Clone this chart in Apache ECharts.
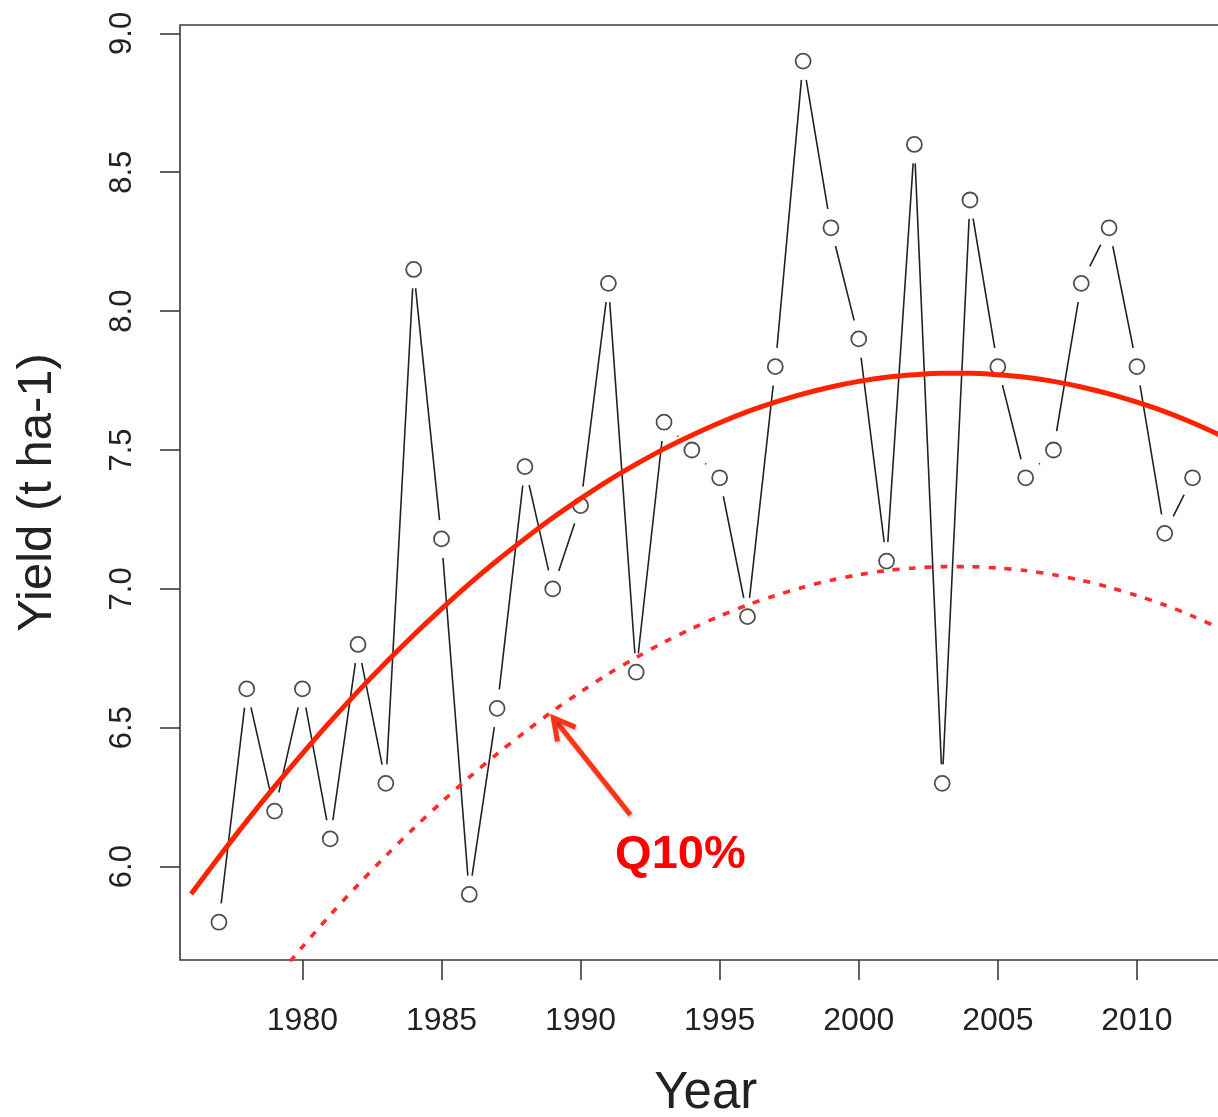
<!DOCTYPE html>
<html>
<head>
<meta charset="utf-8">
<title>Yield trend</title>
<script src="https://cdn.jsdelivr.net/npm/echarts@6/dist/echarts.min.js"></script>
<style>
  html, body { margin: 0; padding: 0; background: #fff; }
  #chart { width: 1218px; height: 1117px; }
</style>
</head>
<body>
<div id="chart"></div>
<script>
// Observed yearly yields (t ha-1)
const years = [1977, 1978, 1979, 1980, 1981, 1982, 1983, 1984, 1985, 1986, 1987, 1988,
               1989, 1990, 1991, 1992, 1993, 1994, 1995, 1996, 1997, 1998, 1999, 2000,
               2001, 2002, 2003, 2004, 2005, 2006, 2007, 2008, 2009, 2010, 2011, 2012];
const yields = [5.80, 6.64, 6.20, 6.64, 6.10, 6.80, 6.30, 8.15, 7.18, 5.90, 6.57, 7.44,
                7.00, 7.30, 8.10, 6.70, 7.60, 7.50, 7.40, 6.90, 7.80, 8.90, 8.30, 7.90,
                7.10, 8.60, 6.30, 8.40, 7.80, 7.40, 7.50, 8.10, 8.30, 7.80, 7.20, 7.40];

// Fitted mean trend and the 10% quantile trend, one reading per year
const trendYears = [1976, 1977, 1978, 1979, 1980, 1981, 1982, 1983, 1984, 1985,
                    1986, 1987, 1988, 1989, 1990, 1991, 1992, 1993, 1994, 1995,
                    1996, 1997, 1998, 1999, 2000, 2001, 2002, 2003, 2004, 2005,
                    2006, 2007, 2008, 2009, 2010, 2011, 2012, 2013, 2013.4];
const meanTrend  = [5.902, 6.035, 6.164, 6.288, 6.407, 6.522, 6.631, 6.735, 6.834, 6.928,
                    7.018, 7.102, 7.181, 7.256, 7.325, 7.390, 7.449, 7.504, 7.553, 7.598,
                    7.638, 7.672, 7.702, 7.727, 7.747, 7.762, 7.771, 7.776, 7.776, 7.771,
                    7.762, 7.747, 7.727, 7.702, 7.672, 7.638, 7.598, 7.553, 7.534];
const q10Trend   = [5.206, 5.339, 5.468, 5.592, 5.711, 5.826, 5.935, 6.039, 6.138, 6.232,
                    6.322, 6.406, 6.485, 6.560, 6.629, 6.694, 6.753, 6.808, 6.857, 6.902,
                    6.942, 6.976, 7.006, 7.031, 7.051, 7.066, 7.075, 7.080, 7.080, 7.075,
                    7.066, 7.051, 7.031, 7.006, 6.976, 6.942, 6.902, 6.857, 6.838];

// Axis ticks
const xTicks = [1980, 1985, 1990, 1995, 2000, 2005, 2010];
const yTicks = [6.0, 6.5, 7.0, 7.5, 8.0, 8.5, 9.0];

// Annotation: arrow from label towards the Q10% curve
const q10Label = 'Q10%';
const q10Arrow = [[1991.79, 6.187, 1989.02, 6.536, 1993.59, 6.042]];

const FONT = "'Liberation Sans', Arial, Helvetica, sans-serif";
const INK = '#222';
const FRAME = '#3a3a3a';

const pairs = (xs, ys) => xs.map((x, i) => [x, ys[i]]);

const chart = echarts.init(document.getElementById('chart'), null, { renderer: 'canvas' });

chart.setOption({
  animation: false,
  backgroundColor: '#fff',
  grid: {
    left: 180, top: 25, right: -13.5, bottom: 157,
    outerBoundsMode: 'none',
    containLabel: false,
    show: true, borderColor: FRAME, borderWidth: 1.6, backgroundColor: 'transparent'
  },
  xAxis: {
    type: 'value', min: 1975.6, max: 2013.4,
    name: 'Year', nameLocation: 'middle', nameGap: 108,
    nameTextStyle: { fontFamily: FONT, fontSize: 51, color: INK, lineHeight: 51 },
    axisLine: { show: false },
    splitLine: { show: false },
    axisTick: { show: true, inside: false, length: 20, customValues: xTicks,
                lineStyle: { color: FRAME, width: 1.6 } },
    axisLabel: { customValues: xTicks, margin: 45, fontFamily: FONT, fontSize: 32,
                 color: INK, lineHeight: 32, formatter: v => String(v) }
  },
  yAxis: {
    type: 'value', min: 5.664, max: 9.03,
    name: 'Yield (t ha-1)', nameLocation: 'middle', nameGap: 118, nameRotate: 90,
    nameTextStyle: { fontFamily: FONT, fontSize: 49, color: INK, lineHeight: 49 },
    axisLine: { show: false },
    splitLine: { show: false },
    axisTick: { show: true, inside: false, length: 20, customValues: yTicks,
                lineStyle: { color: FRAME, width: 1.6 } },
    axisLabel: { customValues: yTicks, rotate: 90, margin: 42, fontFamily: FONT, fontSize: 31,
                 color: INK, lineHeight: 31, formatter: v => v.toFixed(1) }
  },
  series: [
    {
      // connecting line; white discs open a gap around each observation
      type: 'line',
      data: pairs(years, yields),
      z: 2,
      silent: true,
      showAllSymbol: true,
      symbol: 'circle',
      symbolSize: 38,
      itemStyle: { color: '#fff', borderWidth: 0 },
      lineStyle: { color: INK, width: 1.6 }
    },
    {
      // observation markers
      type: 'scatter',
      data: pairs(years, yields),
      z: 3,
      silent: true,
      symbol: 'circle',
      symbolSize: 15,
      itemStyle: { color: '#fff', borderColor: INK, borderWidth: 1.8 }
    },
    {
      type: 'line',
      data: pairs(trendYears, meanTrend),
      z: 4,
      silent: true,
      smooth: 0.3,
      symbol: 'none',
      clip: true,
      lineStyle: { color: '#ff2200', width: 5 }
    },
    {
      type: 'line',
      data: pairs(trendYears, q10Trend),
      z: 4,
      silent: true,
      smooth: 0.3,
      symbol: 'none',
      clip: true,
      lineStyle: { color: '#ff2a2a', width: 3.6, type: [7, 9], cap: 'butt' }
    },
    {
      type: 'custom',
      data: q10Arrow,
      z: 5,
      silent: true,
      clip: false,
      renderItem: function (params, api) {
        const tail = api.coord([api.value(0), api.value(1)]);
        const tip = api.coord([api.value(2), api.value(3)]);
        const lab = api.coord([api.value(4), api.value(5)]);
        const ang = Math.atan2(tail[1] - tip[1], tail[0] - tip[0]);
        const L = 24, spread = 0.5;
        const w1 = [tip[0] + L * Math.cos(ang + spread), tip[1] + L * Math.sin(ang + spread)];
        const w2 = [tip[0] + L * Math.cos(ang - spread), tip[1] + L * Math.sin(ang - spread)];
        const arrowStyle = {
          stroke: '#ff3316', lineWidth: 5, fill: null, lineCap: 'butt', lineJoin: 'miter',
          shadowBlur: 3, shadowColor: 'rgba(0,0,0,0.25)', shadowOffsetX: 1, shadowOffsetY: 2
        };
        return {
          type: 'group',
          children: [
            { type: 'polyline', shape: { points: [tail, tip] }, style: arrowStyle },
            { type: 'polyline', shape: { points: [w1, tip, w2] }, style: arrowStyle },
            {
              type: 'text',
              style: {
                text: q10Label, x: lab[0], y: lab[1], align: 'center', verticalAlign: 'middle',
                font: "bold 47px " + FONT, fill: '#ff0000'
              }
            }
          ]
        };
      }
    }
  ]
});
</script>
</body>
</html>
